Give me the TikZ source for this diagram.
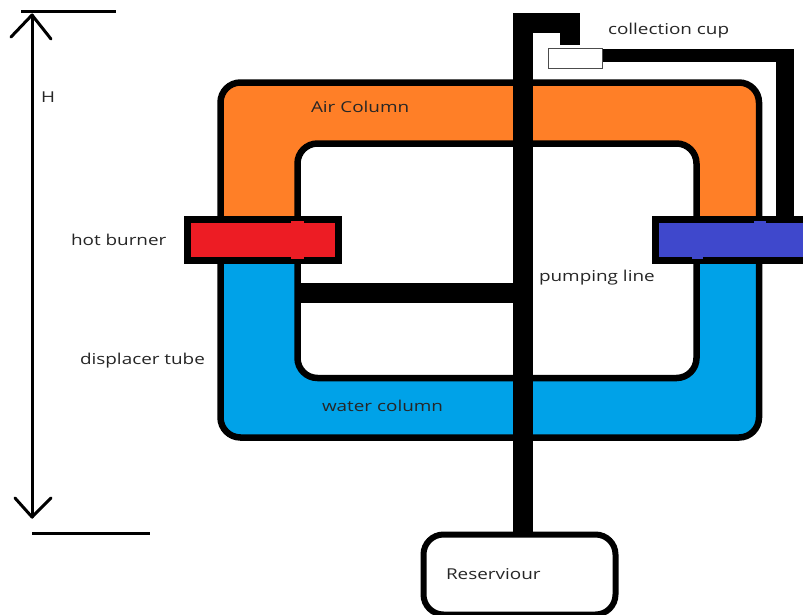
\documentclass[tikz,border=0pt]{standalone}
\usepackage{fontspec}
\setmainfont[FakeStretch=1.26]{Open Sans}
\definecolor{airorange}{HTML}{FF7F27}
\definecolor{waterblue}{HTML}{00A2E8}
\definecolor{hotred}{HTML}{ED1C24}
\definecolor{coldblue}{HTML}{3F48CC}
\tikzset{
  every node/.append style={outer sep=0pt},
  lab/.style={anchor=base west,inner sep=0pt,text=black!85,font=\fontsize{15}{18}\selectfont},
  wall/.style={draw=black,line width=6.5pt},
  pipe/.style={draw=black,line width=20pt,line join=miter},
  pipethin/.style={draw=black,line width=18pt,line join=miter},
  burnerbox/.style={draw=black,line width=7pt,inner sep=0pt,rectangle},
  dim/.style={draw=black,line width=3pt,line cap=round,line join=round},
  dimline/.style={draw=black,line width=3pt}
}
\begin{document}
\begin{tikzpicture}[x=1pt,y=-1pt]
\useasboundingbox (0,0) rectangle (803,614);
\clip (0,0) rectangle (803,614);
\fill[white] (0,0) rectangle (803,614);
% displacer tube fill
\begin{scope}
  \clip (0,0) rectangle (803,240);
  \fill[airorange,even odd rule,rounded corners=20pt] (220.5,82.5) rectangle (759,437.5) (297.5,143.5) rectangle (696.5,378);
\end{scope}
\begin{scope}
  \clip (0,240) rectangle (803,614);
  \fill[waterblue,even odd rule,rounded corners=20pt] (220.5,82.5) rectangle (759,437.5) (297.5,143.5) rectangle (696.5,378);
\end{scope}
\draw[wall,rounded corners=20pt] (220.5,82.5) rectangle (759,437.5);
\draw[wall,rounded corners=20pt] (297.5,143.5) rectangle (696.5,378);
% burners
\node[burnerbox,fill=hotred,minimum width=151pt,minimum height=41pt] (hot) at (263,240) {};
\node[burnerbox,fill=coldblue,minimum width=160pt,minimum height=41pt,anchor=west] (cold) at (655.3,239.5) {};
\fill[hotred] (291,221) rectangle (303.5,259);
\fill[coldblue] (754,220.5) rectangle (765.5,223);
\fill[coldblue] (692,256) rectangle (703,259);
% reservoir
\node[draw=black,line width=6pt,fill=white,rounded corners=20pt,inner sep=0pt,minimum width=192pt,minimum height=80pt,anchor=north west] (res) at (423.5,534.5) {};
% collection cup
\node[draw=black!70,line width=1pt,fill=white,inner sep=0pt,minimum width=54pt,minimum height=20pt,anchor=north west] (cup) at (548.5,48) {};
% pipes
\coordinate (pumptop) at (523,23);
\coordinate (pumpbend) at (570,23);
\coordinate (pumpdrop) at (570,44.5);
\coordinate (retcorner) at (785,55.5);
\coordinate (bar) at (300,293);
\coordinate (barend) at (523,293);
\draw[pipe] (res.north -| pumptop) -- (pumptop) -- (pumpbend) -- (pumpdrop);
\draw[pipe] (bar) -- (barend);
\draw[draw=black,line width=13pt] (cup.east |- retcorner) -- ([xshift=9pt]retcorner);
\draw[pipethin] (retcorner |- 0,49) -- (retcorner |- cold.north);
% height marker
\coordinate (ht) at (32,15);
\coordinate (hb) at (32,517);
\draw[dim] (ht) -- (hb);
\draw[dim] (11,37) -- (ht) -- (51,39);
\draw[dim] (15,498) -- (hb) -- (51,498);
\draw[dimline] (21,11) -- (116,11);
\draw[dimline] (32,533.5) -- (150,533.5);
% labels
\node[lab] (lh) at (41,102) {H};
\node[lab] (lcup) at (608,34.5) {collection cup};
\node[lab] (lair) at (311,112) {Air Column};
\node[lab] (lhot) at (71,245) {hot burner};
\node[lab] (lpump) at (539,281) {pumping line};
\node[lab] (ldisp) at (80,364) {displacer tube};
\node[lab] (lwater) at (322,411) {water column};
\node[lab] (lres) at (446,579) {Reserviour};
\end{tikzpicture}
\end{document}
